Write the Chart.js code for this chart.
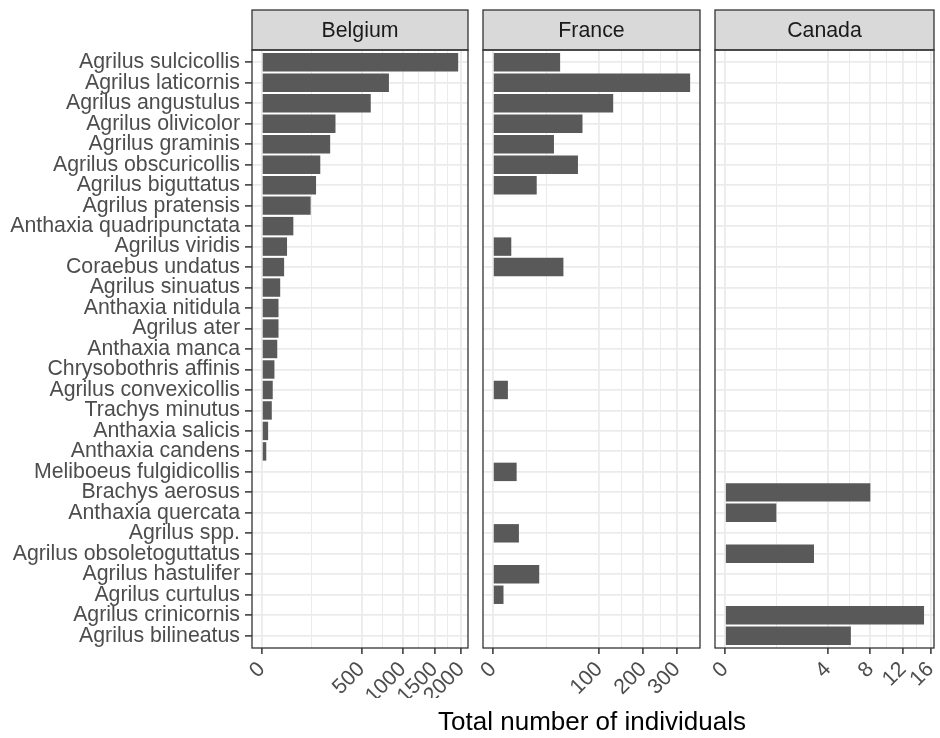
<!DOCTYPE html>
<html>
<head>
<meta charset="utf-8">
<script src="https://cdn.jsdelivr.net/npm/chart.js@4.4.0/dist/chart.umd.min.js"></script>
<style>
  body { margin: 0; background: #fff; }
  #wrap { position: relative; width: 940px; height: 738px; overflow: hidden; font-family: "Liberation Sans", Arial, sans-serif; }
  #wrap canvas { position: absolute; top: 0; }
  #xtitle { position: absolute; left: 392px; width: 400px; top: 705px; text-align: center; font-size: 26px; line-height: 32px; color: #000; }
</style>
</head>
<body>
<div id="wrap">
  <canvas id="belgiumChart"></canvas>
  <canvas id="franceChart"></canvas>
  <canvas id="canadaChart"></canvas>
  <div id="xtitle">Total number of individuals</div>
</div>
<script>
// species, top to bottom
const species = [
  'Agrilus sulcicollis', 'Agrilus laticornis', 'Agrilus angustulus', 'Agrilus olivicolor',
  'Agrilus graminis', 'Agrilus obscuricollis', 'Agrilus biguttatus', 'Agrilus pratensis',
  'Anthaxia quadripunctata', 'Agrilus viridis', 'Coraebus undatus', 'Agrilus sinuatus',
  'Anthaxia nitidula', 'Agrilus ater', 'Anthaxia manca', 'Chrysobothris affinis',
  'Agrilus convexicollis', 'Trachys minutus', 'Anthaxia salicis', 'Anthaxia candens',
  'Meliboeus fulgidicollis', 'Brachys aerosus', 'Anthaxia quercata', 'Agrilus spp.',
  'Agrilus obsoletoguttatus', 'Agrilus hastulifer', 'Agrilus curtulus', 'Agrilus crinicornis',
  'Agrilus bilineatus'
];

// counts per country (null = not recorded)
const belgium = [1940, 813, 597, 273, 235, 172, 148, 120, 50, 32, 25, 17, 14, 14, 12, 8, 6, 5, 2, 1,
  null, null, null, null, null, null, null, null, null];
const france = [40, 344, 128, 71, 33, 64, 17, null, null, 3, 44, null, null, null, null, null, 2, null, null, null,
  5, null, null, 6, null, 19, 1, null, null];
const canada = [null, null, null, null, null, null, null, null, null, null, null, null, null, null, null, null, null, null, null, null,
  null, 8, 1, null, 3, null, null, 15, 6];

const belgiumTicks = [0, 500, 1000, 1500, 2000];
const franceTicks = [0, 100, 200, 300];
const canadaTicks = [0, 4, 8, 12, 16];

const FONT = '"Liberation Sans", Arial, sans-serif';
const GRID = '#EBEBEB';
const DARK = '#333333';

// ggplot-like strip + panel border
const facetPlugin = {
    id: 'facet',
    afterDraw(chart, args, opts) {
        const { ctx, chartArea: a } = chart;
        ctx.save();
        ctx.fillStyle = '#D9D9D9';
        ctx.fillRect(a.left, a.top - 40, a.right - a.left, 40);
        ctx.strokeStyle = DARK;
        ctx.lineWidth = 1.3;
        ctx.strokeRect(a.left, a.top - 40, a.right - a.left, 40);
        ctx.strokeRect(a.left, a.top, a.right - a.left, a.bottom - a.top);
        ctx.fillStyle = '#1A1A1A';
        ctx.font = '21.3px ' + FONT;
        ctx.textAlign = 'center';
        ctx.textBaseline = 'middle';
        ctx.fillText(opts.title, (a.left + a.right) / 2, a.top - 19);
        ctx.restore();
    }
};

function buildPanel(canvasId, title, values, tickValues, box) {
    const canvas = document.getElementById(canvasId);
    canvas.style.left = box.left + 'px';
    canvas.width = box.width;
    canvas.height = 738;

    const points = [];
    values.forEach((v, i) => {
        if (v !== null) points.push({ x: Math.sqrt(v), y: i });
    });

    // sqrt scale: work in sqrt units, 5% expansion like ggplot
    const top = Math.sqrt(Math.max(...values.filter(v => v !== null)));
    const major = tickValues.map(Math.sqrt);
    const minor = [];
    for (let i = 0; i < major.length - 1; i++) minor.push((major[i] + major[i + 1]) / 2);

    const showY = box.yAxis;

    return new Chart(canvas.getContext('2d'), {
        type: 'bar',
        data: {
            datasets: [{
                data: points,
                backgroundColor: '#595959',
                borderWidth: 0,
                barPercentage: 0.9,
                categoryPercentage: 1
            }]
        },
        options: {
            indexAxis: 'y',
            responsive: false,
            animation: false,
            layout: { padding: { top: 50, bottom: 40, left: box.padLeft, right: box.padRight } },
            plugins: {
                legend: { display: false },
                tooltip: { enabled: false },
                facet: { title: title }
            },
            scales: {
                x: {
                    type: 'linear',
                    min: -0.05 * top,
                    max: 1.05 * top,
                    afterBuildTicks: (scale) => {
                        const t = major.map(v => ({ value: v, minor: false }))
                            .concat(minor.map(v => ({ value: v, minor: true })));
                        t.sort((a, b) => a.value - b.value);
                        scale.ticks = t;
                    },
                    afterFit: (scale) => {
                        scale.height = 50;
                        scale.paddingLeft = 0;
                        scale.paddingRight = 0;
                    },
                    border: { display: false },
                    grid: {
                        color: GRID,
                        lineWidth: (c) => (c.tick && c.tick.minor) ? 1 : 1.8,
                        tickColor: (c) => (c.tick && c.tick.minor) ? 'rgba(0,0,0,0)' : DARK,
                        tickWidth: 1.5,
                        tickLength: 6
                    },
                    ticks: {
                        autoSkip: false,
                        minRotation: 45,
                        maxRotation: 45,
                        padding: 3,
                        color: '#4D4D4D',
                        font: { family: FONT, size: 21.3 },
                        callback: (value, index, ticks) => ticks[index].minor ? '' : String(Math.round(value * value))
                    }
                },
                y: {
                    type: 'linear',
                    reverse: true,
                    offset: false,
                    min: -0.6,
                    max: species.length - 0.4,
                    afterBuildTicks: (scale) => {
                        scale.ticks = species.map((s, i) => ({ value: i }));
                    },
                    afterFit: (scale) => {
                        scale.width = showY ? 252 : 0;
                        scale.paddingTop = 0;
                        scale.paddingBottom = 0;
                    },
                    border: { display: false },
                    grid: {
                        offset: false,
                        color: GRID,
                        lineWidth: 1.8,
                        drawTicks: showY,
                        tickColor: DARK,
                        tickWidth: 1.5,
                        tickLength: 7
                    },
                    ticks: {
                        display: showY,
                        autoSkip: false,
                        padding: 5,
                        color: '#4D4D4D',
                        font: { family: FONT, size: 21.3 },
                        callback: (value) => species[Math.round(value)] || ''
                    }
                }
            }
        },
        plugins: [facetPlugin]
    });
}

buildPanel('belgiumChart', 'Belgium', belgium, belgiumTicks,
    { left: 0, width: 472, padLeft: 0, padRight: 4, yAxis: true });
buildPanel('franceChart', 'France', france, franceTicks,
    { left: 470, width: 235, padLeft: 13, padRight: 5, yAxis: false });
buildPanel('canadaChart', 'Canada', canada, canadaTicks,
    { left: 702, width: 238, padLeft: 13, padRight: 6, yAxis: false });
</script>
</body>
</html>
